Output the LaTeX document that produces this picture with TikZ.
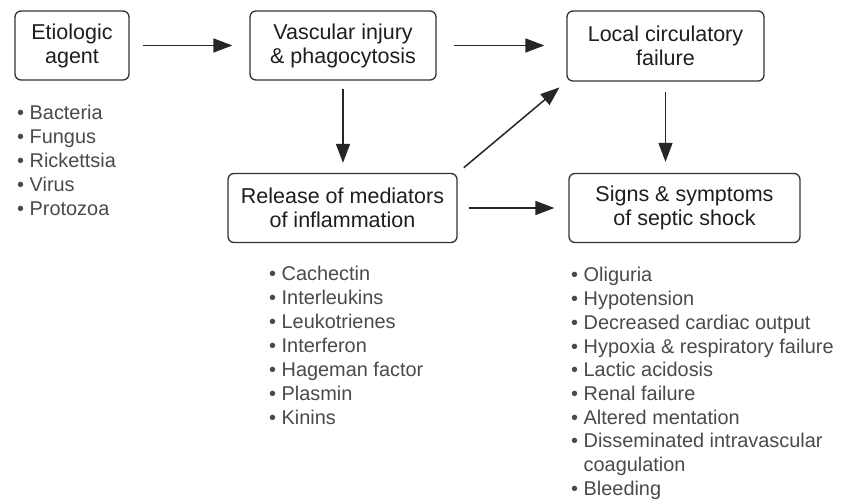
\documentclass[tikz,border=0pt]{standalone}
\usepackage{fontspec}
\setmainfont{Liberation Sans}
\usetikzlibrary{arrows.meta}

\definecolor{boxline}{HTML}{333333}
\definecolor{boxtext}{HTML}{1E1E1E}
\definecolor{listtext}{HTML}{4A4A4A}

\tikzset{
  stage/.style={draw=boxline, line width=1.3pt, rounded corners=6pt,
    align=center, inner sep=0pt, text=boxtext,
    font=\fontsize{21.5}{24}\selectfont},
  flow/.style={line width=1.5pt, draw=black!85,
    -{Triangle[length=19pt,width=14pt]}},
  item/.style={anchor=base west, inner sep=0pt, text=listtext,
    font=\fontsize{19.9}{24}\selectfont}
}

\begin{document}
\begin{tikzpicture}[x=1pt,y=-1pt]
\useasboundingbox[fill=white] (0,0) rectangle (841,502);

% stages of the process
\node[stage, minimum width=114pt, minimum height=69pt] (eti) at (72,45.5) {Etiologic\\agent};
\node[stage, minimum width=186pt, minimum height=69pt] (vas) at (343,45.5) {Vascular injury\\\& phagocytosis};
\node[stage, minimum width=197pt, minimum height=70pt] (loc) at (665.5,46) {Local circulatory\\failure};
\node[stage, minimum width=229pt, minimum height=69pt] (rel) at (342.5,208) {Release of mediators\\of inflammation};
\node[stage, minimum width=231pt, minimum height=69pt] (sig) at (684.5,208) {Signs \& symptoms\\of septic shock};

% connectors
\draw[flow, shorten <=13pt, shorten >=17pt] (eti.east) -- (eti.east -| vas.west);
\draw[flow, shorten <=17pt, shorten >=22pt] (vas.east) -- (vas.east -| loc.west);
\draw[flow, shorten <=8pt, shorten >=10pt] (vas.south) -- (vas.south |- rel.north);
\draw[flow, shorten <=8pt, shorten >=9pt] (rel.north east) -- (loc.south west);
\draw[flow, shorten <=11pt, shorten >=14pt] (rel.east) -- (rel.east -| sig.west);
\draw[flow, shorten <=10pt, shorten >=11pt] (loc.south) -- (loc.south |- sig.north);

% causative agents
\foreach \t [count=\i] in {Bacteria,Fungus,Rickettsia,Virus,Protozoa}
  \node[item] (agent\i) at (17,{120+24*(\i-1)}) {\textbullet\ \t};

% mediators
\foreach \t [count=\i] in {Cachectin,Interleukins,Leukotrienes,Interferon,Hageman factor,Plasmin,Kinins}
  \node[item] (med\i) at (269,{281+24*(\i-1)}) {\textbullet\ \t};

% clinical signs
\foreach \t [count=\i] in {Oliguria,Hypotension,Decreased cardiac output,Hypoxia \& respiratory failure,Lactic acidosis,Renal failure,Altered mentation,Disseminated intravascular,\phantom{\textbullet\ }coagulation,Bleeding}
  \node[item] (sign\i) at (571,{282+23.7*(\i-1)}) {\ifnum\i=9 \t\else\textbullet\ \t\fi};
\end{tikzpicture}
\end{document}
